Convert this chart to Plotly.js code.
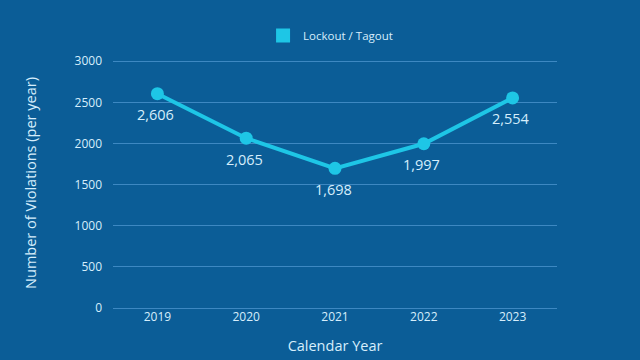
<!DOCTYPE html>
<html><head><meta charset="utf-8">
<script src="https://cdn.plot.ly/plotly-3.0.1.min.js"></script>
<style>html,body{margin:0;padding:0;background:#0b5d97}#c{width:640px;height:360px}</style>
</head><body><div id="c"></div>
<script>
const years = ['2019','2020','2021','2022','2023'];
const violations = [2606, 2065, 1698, 1997, 2554];
const labels = ['2,606','2,065','1,698','1,997','2,554'];
const seriesName = 'Lockout / Tagout';

const txt = '#d6eefc';
const fontFam = '"Open Sans", "Noto Sans", sans-serif';

const traces = [
  {x: years, y: violations, mode: 'lines+markers',
   line: {color: '#1ec6e6', width: 4}, marker: {color: '#1ec6e6', size: 13},
   showlegend: false, cliponaxis: false, hoverinfo: 'skip'},
  {x: [null], y: [null], mode: 'markers', name: seriesName,
   marker: {color: '#1ec6e6', size: 14, symbol: 'square'}, showlegend: true}
];

const annotations = years.map((yr, i) => ({
  xref: 'x', yref: 'y', x: i, y: violations[i], text: labels[i], showarrow: false,
  yshift: -21, xshift: -2, font: {size: 14.5, color: txt, family: fontFam}
}));

const layout = {
  width: 640, height: 360,
  paper_bgcolor: '#0b5d97', plot_bgcolor: '#0b5d97',
  margin: {l: 112.5, r: 82.5, t: 58, b: 52, autoexpand: false},
  font: {family: fontFam, color: txt, size: 12},
  showlegend: true,
  legend: {orientation: 'h', x: 0.49, xanchor: 'center', y: 1.09, yanchor: 'middle',
           font: {size: 11.5, color: txt}, bgcolor: 'rgba(0,0,0,0)'},
  annotations: annotations,
  xaxis: {type: 'category', range: [-0.5, 4.5], showgrid: false, zeroline: false,
          showline: false, ticks: '', tickfont: {size: 12, color: txt},
          title: {text: 'Calendar Year', font: {size: 14.5, color: txt}, standoff: 16}},
  yaxis: {range: [0, 3040], tickvals: [0,500,1000,1500,2000,2500,3000],
          gridcolor: '#3d88c2', gridwidth: 1, zeroline: true, zerolinecolor: '#3d88c2',
          showline: false, ticks: '', ticklabelstandoff: 10, tickfont: {size: 12, color: txt},
          title: {text: 'Number of Violations (per year)', font: {size: 14.5, color: txt}, standoff: 34}}
};

Plotly.newPlot('c', traces, layout, {displayModeBar: false, staticPlot: true});
</script></body></html>
